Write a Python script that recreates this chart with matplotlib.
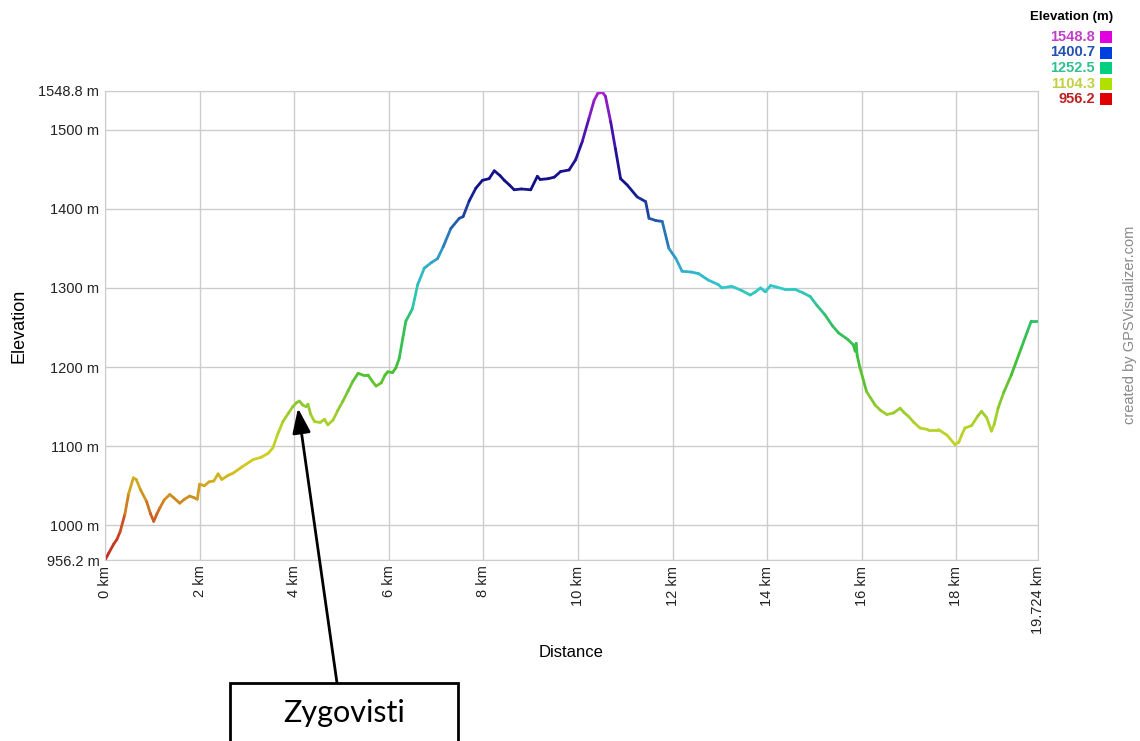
import matplotlib
matplotlib.use("Agg")
import matplotlib.pyplot as plt
import numpy as np
from matplotlib.collections import LineCollection
from matplotlib.colors import LinearSegmentedColormap, Normalize
from matplotlib.patches import Rectangle

# Perfil de elevación (km, m)
distancia_km = [
    0.00, 0.08, 0.18, 0.25, 0.32, 0.42, 0.50, 0.60, 0.66, 0.75, 0.88, 0.96,
    1.03, 1.10, 1.16, 1.25, 1.37, 1.45, 1.58, 1.68, 1.79, 1.88, 1.95, 2.00,
    2.10, 2.20, 2.30, 2.39, 2.47, 2.60, 2.71, 2.90, 3.13, 3.30, 3.45, 3.55,
    3.65, 3.76, 3.88, 3.97, 4.05, 4.11, 4.18, 4.25, 4.29, 4.35, 4.43, 4.55,
    4.64, 4.71, 4.82, 4.92, 5.03, 5.14, 5.24, 5.35, 5.45, 5.56, 5.65, 5.73,
    5.84, 5.92, 5.98, 6.08, 6.15, 6.22, 6.36, 6.45, 6.50, 6.61, 6.75, 6.90,
    7.03, 7.15, 7.31, 7.49, 7.57, 7.70, 7.84, 7.98, 8.12, 8.23, 8.35, 8.44,
    8.55, 8.65, 8.80, 9.00, 9.14, 9.20, 9.37, 9.50, 9.63, 9.81, 9.95, 10.09,
    10.23, 10.34, 10.42, 10.52, 10.58, 10.69, 10.79, 10.90, 11.04, 11.25,
    11.43, 11.50, 11.65, 11.78, 11.92, 12.07, 12.20, 12.40, 12.55, 12.75,
    12.97, 13.04, 13.25, 13.45, 13.64, 13.75, 13.86, 13.96, 14.07, 14.20,
    14.38, 14.59, 14.75, 14.91, 15.05, 15.22, 15.38, 15.51, 15.70, 15.82,
    15.86, 15.88, 15.90, 15.96, 16.10, 16.28, 16.40, 16.53, 16.67, 16.81,
    16.90, 16.98, 17.10, 17.23, 17.40, 17.62, 17.80, 17.97, 18.05, 18.11,
    18.18, 18.32, 18.45, 18.53, 18.64, 18.74, 18.80, 18.88, 19.00, 19.16,
    19.37, 19.50, 19.58, 19.724,
]
elevacion_m = [
    956, 965, 976, 982, 992, 1014, 1040, 1060, 1058, 1045, 1030, 1015,
    1005, 1015, 1022, 1032, 1039, 1035, 1028, 1033, 1037, 1035, 1033, 1052,
    1050, 1055, 1056, 1065, 1058, 1063, 1066, 1074, 1083, 1086, 1091, 1098,
    1115, 1131, 1142, 1150, 1155, 1157, 1152, 1150, 1153, 1140, 1131, 1130,
    1134, 1127, 1133, 1145, 1157, 1170, 1182, 1192, 1190, 1190, 1182, 1176,
    1180, 1190, 1194, 1193, 1199, 1211, 1258, 1268, 1274, 1304, 1325, 1332,
    1337, 1352, 1375, 1388, 1390, 1410, 1426, 1436, 1438, 1448, 1442, 1436,
    1430, 1424, 1425, 1424, 1441, 1437, 1438, 1440, 1447, 1449, 1462, 1485,
    1514, 1537, 1546, 1547, 1542, 1510, 1476, 1438, 1430, 1415,
    1409, 1388, 1385, 1384, 1350, 1337, 1321, 1320, 1318, 1310,
    1304, 1300, 1302, 1297, 1291, 1295, 1300, 1295, 1303, 1301,
    1298, 1298, 1294, 1289, 1278, 1266, 1252, 1243, 1235, 1228,
    1220, 1230, 1215, 1199, 1169, 1152, 1145, 1140, 1142, 1148,
    1142, 1138, 1130, 1123, 1121, 1121, 1114, 1102, 1105, 1114,
    1123, 1126, 1138, 1144, 1136, 1119, 1128, 1148, 1168, 1190,
    1224, 1245, 1258, 1258,
]

elev_min, elev_max = 956.2, 1548.8
dist_max = 19.724

y_ticks = [956.2, 1000, 1100, 1200, 1300, 1400, 1500, 1548.8]
y_labels = ["956.2 m", "1000 m", "1100 m", "1200 m", "1300 m", "1400 m", "1500 m", "1548.8 m"]
x_ticks = [0, 2, 4, 6, 8, 10, 12, 14, 16, 18, 19.724]
x_labels = ["0 km", "2 km", "4 km", "6 km", "8 km", "10 km", "12 km", "14 km", "16 km", "18 km", "19.724 km"]

leyenda_valores = ["1548.8", "1400.7", "1252.5", "1104.3", "956.2"]
leyenda_texto = ["#c040c8", "#2050b0", "#30c090", "#c0d040", "#c02020"]
leyenda_cuadro = ["#e000e0", "#0040e0", "#00d080", "#b0e000", "#e00000"]

plt.rcParams["font.family"] = ["Liberation Sans", "DejaVu Sans"]

# colores de la línea según la elevación
paradas = [
    (956.2, "#c02a20"), (1000, "#cc4a20"), (1040, "#d09a20"), (1080, "#d4cc20"),
    (1120, "#b8d428"), (1160, "#84c830"), (1200, "#40c030"), (1260, "#30c068"),
    (1300, "#30c8c8"), (1340, "#30a0c8"), (1390, "#2050a8"), (1430, "#101088"),
    (1480, "#2a10a0"), (1548.8, "#b020d0"),
]
cmap = LinearSegmentedColormap.from_list(
    "gps", [((v - elev_min) / (elev_max - elev_min), c) for v, c in paradas])
norm = Normalize(elev_min, elev_max)

fig = plt.figure(figsize=(11.4, 7.41), dpi=100)
ax = fig.add_axes([105 / 1140, 1 - 560 / 741, (1038 - 105) / 1140, (560 - 91) / 741])

x = np.array(distancia_km)
y = np.array(elevacion_m, dtype=float)
puntos = np.column_stack([x, y]).reshape(-1, 1, 2)
segmentos = np.concatenate([puntos[:-1], puntos[1:]], axis=1)
lc = LineCollection(segmentos, cmap=cmap, norm=norm, linewidth=2.0, capstyle="round", joinstyle="round")
lc.set_array((y[:-1] + y[1:]) / 2)
ax.add_collection(lc)

ax.set_xlim(0, dist_max)
ax.set_ylim(elev_min, elev_max)
ax.set_xticks(x_ticks)
ax.set_xticklabels(x_labels, rotation=90, fontsize=10.5)
ax.set_yticks(y_ticks)
ax.set_yticklabels(y_labels, fontsize=10.5)
ax.tick_params(length=0, pad=4, colors="#222222")
ax.grid(True, color="#cccccc", linewidth=1)
for s in ax.spines.values():
    s.set_color("#cccccc")
ax.set_xlabel("Distance", fontsize=12, labelpad=8)
ax.set_ylabel("Elevation", fontsize=13, labelpad=8)

# leyenda de colores
fig.text(1113 / 1140, 1 - 17 / 741, "Elevation (m)", ha="right", va="center",
         fontsize=9.5, fontweight="bold")
for i, (val, ct, cc) in enumerate(zip(leyenda_valores, leyenda_texto, leyenda_cuadro)):
    yy = 37 + i * 15.5
    fig.text(1095 / 1140, 1 - yy / 741, val, ha="right", va="center",
             fontsize=10.5, fontweight="bold", color=ct)
    fig.patches.append(Rectangle((1100, 741 - yy - 6), 12, 12, transform=None,
                                 facecolor=cc, edgecolor="none"))

fig.text(1130 / 1140, 1 - 325 / 741, "created by GPSVisualizer.com", rotation=90,
         ha="center", va="center", fontsize=10.5, color="#888888")

# anotación Zygovisti
fig.patches.append(Rectangle((230, -30), 228, 741 - 683 + 30, transform=None,
                             facecolor="white", edgecolor="black", linewidth=2))
fig.text(344 / 1140, 1 - 713 / 741, "Zygovisti", ha="center", va="center",
         fontsize=22, family=["Lato", "DejaVu Sans"])
ax.annotate("", xy=(4.08, 1148), xycoords="data",
            xytext=(337, 741 - 683), textcoords="figure pixels",
            arrowprops=dict(arrowstyle="-|>,head_length=1.5,head_width=0.55",
                            color="black", linewidth=2, shrinkA=0, shrinkB=0),
            annotation_clip=False)

plt.savefig("out.png", dpi=100)
